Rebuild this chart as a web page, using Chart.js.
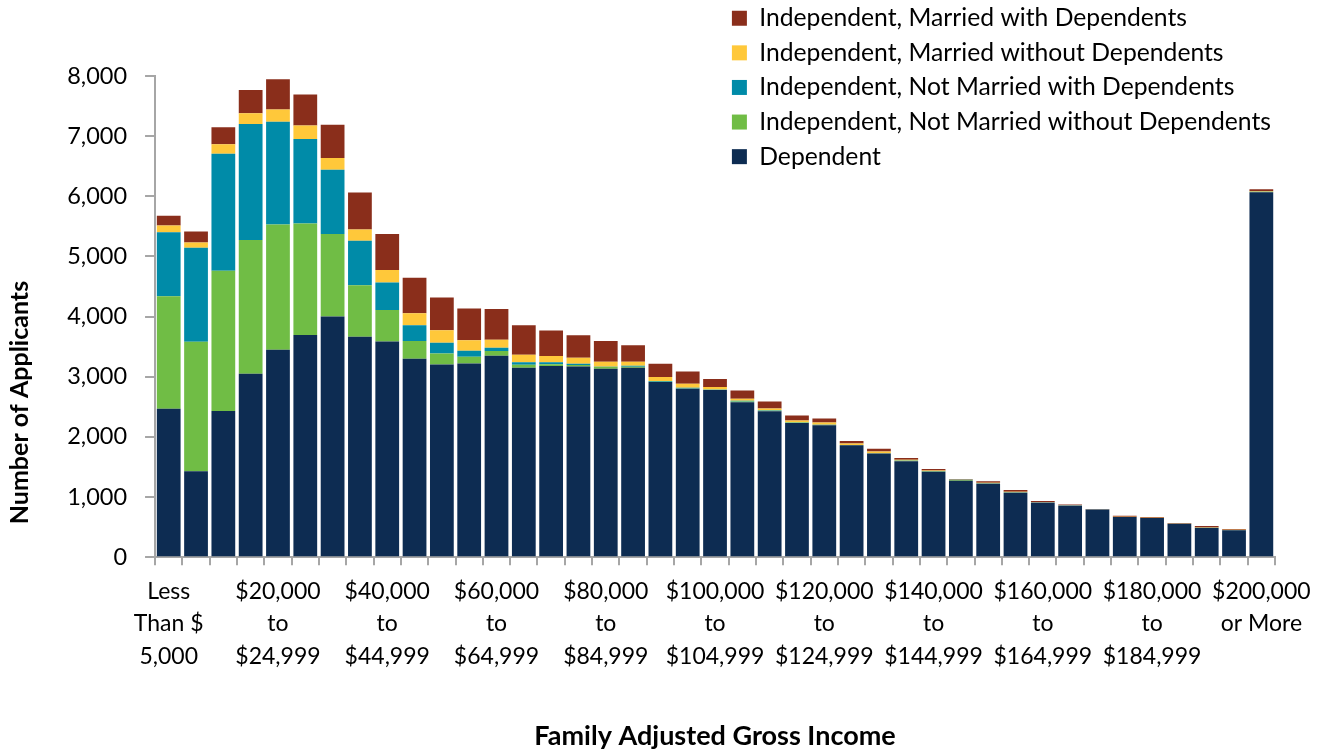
<!DOCTYPE html>
<html>
<head>
<meta charset="utf-8">
<script src="https://cdn.jsdelivr.net/npm/chart.js@4"></script>
<style>
  html, body { margin: 0; padding: 0; background: #ffffff; }
  #wrap { width: 1327px; height: 750px; }
</style>
</head>
<body>
<div id="wrap"><canvas id="chart" width="1327" height="750"></canvas></div>
<script>
// ---- Data ----
const categories = [
  ["Less", "Than $", "5,000"],
  ["$5,000", "to", "$9,999"],
  ["$10,000", "to", "$14,999"],
  ["$15,000", "to", "$19,999"],
  ["$20,000", "to", "$24,999"],
  ["$25,000", "to", "$29,999"],
  ["$30,000", "to", "$34,999"],
  ["$35,000", "to", "$39,999"],
  ["$40,000", "to", "$44,999"],
  ["$45,000", "to", "$49,999"],
  ["$50,000", "to", "$54,999"],
  ["$55,000", "to", "$59,999"],
  ["$60,000", "to", "$64,999"],
  ["$65,000", "to", "$69,999"],
  ["$70,000", "to", "$74,999"],
  ["$75,000", "to", "$79,999"],
  ["$80,000", "to", "$84,999"],
  ["$85,000", "to", "$89,999"],
  ["$90,000", "to", "$94,999"],
  ["$95,000", "to", "$99,999"],
  ["$100,000", "to", "$104,999"],
  ["$105,000", "to", "$109,999"],
  ["$110,000", "to", "$114,999"],
  ["$115,000", "to", "$119,999"],
  ["$120,000", "to", "$124,999"],
  ["$125,000", "to", "$129,999"],
  ["$130,000", "to", "$134,999"],
  ["$135,000", "to", "$139,999"],
  ["$140,000", "to", "$144,999"],
  ["$145,000", "to", "$149,999"],
  ["$150,000", "to", "$154,999"],
  ["$155,000", "to", "$159,999"],
  ["$160,000", "to", "$164,999"],
  ["$165,000", "to", "$169,999"],
  ["$170,000", "to", "$174,999"],
  ["$175,000", "to", "$179,999"],
  ["$180,000", "to", "$184,999"],
  ["$185,000", "to", "$189,999"],
  ["$190,000", "to", "$194,999"],
  ["$195,000", "to", "$199,999"],
  ["$200,000", "or More"]
];

const seriesNames = [
  "Dependent",
  "Independent, Not Married without Dependents",
  "Independent, Not Married with Dependents",
  "Independent, Married without Dependents",
  "Independent, Married with Dependents"
];

const dependent = [2470,1430,2431,3049,3449,3694,4000,3666,3588,3299,3204,3222,3350,3150,3178,3172,3133,3150,2911,2800,2778,2578,2428,2233,2194,1861,1722,1594,1422,1272,1222,1072,906,856,789,667,650,556,489,450,6067];
const notMarriedWithout = [1870,2153,2331,2225,2081,1853,1374,857,523,295,184,111,78,50,28,22,28,17,6,5,6,10,8,5,5,3,5,8,8,12,4,5,1,1,1,1,1,1,1,1,5];
const notMarriedWith = [1063,1563,1947,1930,1708,1407,1068,740,457,261,178,100,55,39,33,23,6,16,11,12,6,12,8,5,5,3,3,4,4,2,3,3,1,1,1,1,1,1,1,1,5];
const marriedWithout = [111,84,156,178,206,223,195,183,205,201,206,173,134,128,105,100,83,67,66,66,40,33,28,29,35,22,28,14,8,4,7,7,5,4,2,4,3,2,5,3,10];
const marriedWith = [162,183,284,384,500,517,551,618,601,589,545,527,511,489,423,372,344,272,223,206,134,139,117,84,67,44,44,30,25,10,25,30,20,16,7,16,12,7,21,12,30];

const seriesColors = ["#0d2c52", "#70bd45", "#008ba8", "#ffc83a", "#8a2e1b"];

const yMin = 0;
const yMax = 8000;
const yStep = 1000;
const xLabelEvery = 4;

const xTitle = "Family Adjusted Gross Income";
const yTitle = "Number of Applicants";

// ---- Chart ----
const FONT = "Lato, 'Open Sans', sans-serif";
const AXIS_GRAY = "#a6a6a6";

// Places the legend in the top-right corner (over the plot, as in the reference)
// and lifts the y-axis title slightly, like the original.
const layoutTweaks = {
  id: 'layoutTweaks',
  afterLayout(chart) {
    const lg = chart.legend;
    if (lg) {
      lg.left = 722;
      lg.top = -4;
      lg.right = 1327;
      lg.bottom = 260;
    }
    const ys = chart.scales.y;
    if (ys && !ys._titleShifted) {
      const orig = ys.drawTitle.bind(ys);
      ys.drawTitle = function () {
        this.ctx.save();
        this.ctx.translate(0, -33);
        orig();
        this.ctx.restore();
      };
      ys._titleShifted = true;
    }
  }
};

const seriesData = [dependent, notMarriedWithout, notMarriedWith, marriedWithout, marriedWith];

new Chart(document.getElementById('chart'), {
  type: 'bar',
  data: {
    labels: categories,
    datasets: seriesNames.map((name, k) => ({
      label: name,
      data: seriesData[k],
      backgroundColor: seriesColors[k],
      borderWidth: 0,
      barPercentage: 0.87,
      categoryPercentage: 1.0
    }))
  },
  options: {
    responsive: false,
    animation: false,
    layout: { padding: { top: 76, right: 52, bottom: 0, left: 7.5 } },
    plugins: {
      legend: {
        position: 'chartArea',
        align: 'start',
        reverse: true,
        labels: {
          boxWidth: 15,
          boxHeight: 15,
          padding: 9.9,
          color: '#000000',
          font: { family: FONT, size: 24.7 }
        }
      },
      tooltip: { enabled: false }
    },
    scales: {
      x: {
        stacked: true,
        grid: { offset: true, drawOnChartArea: false, tickLength: 8, color: AXIS_GRAY, lineWidth: 2 },
        border: { color: AXIS_GRAY, width: 2 },
        ticks: {
          autoSkip: false,
          maxRotation: 0,
          minRotation: 0,
          padding: 10.5,
          color: '#000000',
          font: { family: FONT, size: 23, lineHeight: 1.40 },
          callback: function (value, index) {
            return index % xLabelEvery === 0 ? categories[index] : '';
          }
        },
        title: {
          display: true,
          text: xTitle,
          color: '#000000',
          font: { family: FONT, size: 27, weight: 'bold', lineHeight: 1.0 },
          padding: { top: 40.2, bottom: 0 }
        }
      },
      y: {
        stacked: true,
        min: yMin,
        max: yMax,
        grid: { drawOnChartArea: false, tickLength: 10, color: AXIS_GRAY, lineWidth: 2 },
        border: { color: AXIS_GRAY, width: 2 },
        ticks: {
          stepSize: yStep,
          padding: 18,
          color: '#000000',
          font: { family: FONT, size: 23.5 },
          callback: function (value) { return value.toLocaleString('en-US'); }
        },
        title: {
          display: true,
          text: yTitle,
          align: 'start',
          color: '#000000',
          font: { family: FONT, size: 25, weight: 'bold', lineHeight: 1.0 },
          padding: { top: 0, bottom: 16.7 }
        }
      }
    }
  },
  plugins: [layoutTweaks]
});
</script>
</body>
</html>
